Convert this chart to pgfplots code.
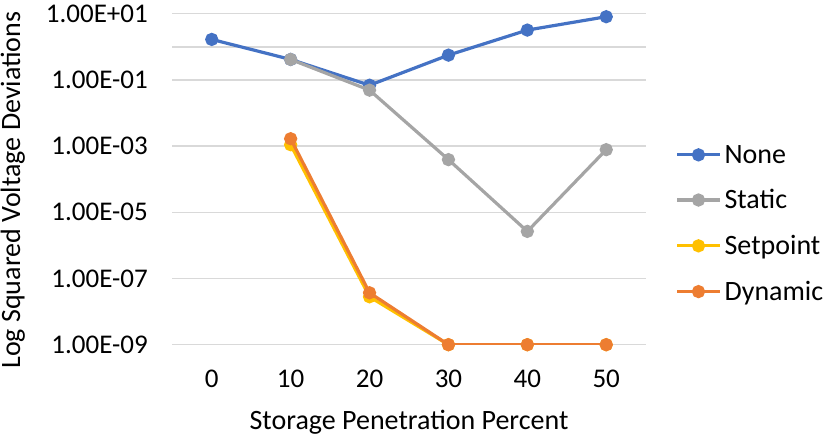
\documentclass[border=0pt]{standalone}
\usepackage{fontspec}
\setmainfont{Carlito}
\usepackage{pgfplots}
\pgfplotsset{compat=1.18}
\definecolor{cNone}{HTML}{4472C4}
\definecolor{cStatic}{HTML}{A5A5A5}
\definecolor{cSet}{HTML}{FFC000}
\definecolor{cDyn}{HTML}{ED7D31}
\definecolor{cGrid}{HTML}{D9D9D9}
\begin{document}
\begin{tikzpicture}
\begin{axis}[
  at={(172.3pt,93.3pt)}, anchor=south west,
  scale only axis, width=473.4pt, height=331pt,
  ymode=log, ymin=1e-9, ymax=10,
  xmin=-5, xmax=55,
  xtick={0,10,20,30,40,50},
  xticklabels={0,10,20,30,40,50},
  ytick={1e-9,1e-7,1e-5,1e-3,1e-1,10},
  yticklabels={1.00E-09,1.00E-07,1.00E-05,1.00E-03,1.00E-01,1.00E+01},
  extra y ticks={1}, extra y tick labels={},
  extra y tick style={grid=major},
  ymajorgrids, grid style={cGrid, line width=1.5pt},
  minor tick num=0, yminorticks=false,
  axis line style={draw=none},
  major tick length=0pt, tick style={draw=none},
  ticklabel style={font=\fontsize{27}{31}\selectfont},
  yticklabel style={anchor=east, xshift=-21pt},
  xticklabel style={anchor=north, yshift=-22pt},
  xlabel={Storage Penetration Percent},
  ylabel={Log Squared Voltage Deviations},
  label style={font=\fontsize{28}{32}\selectfont},
  xlabel style={at={(axis description cs:0.5,0)}, anchor=north, yshift=-62pt},
  ylabel style={at={(axis description cs:-0.337,0.467)}, anchor=center},
  clip mode=individual,
  every axis plot/.append style={line width=3.2pt, mark=*, mark size=5pt},
  legend style={at={(1.056,0.366)}, anchor=west, draw=none, fill=none,
    font=\fontsize{28}{32}\selectfont, row sep=21pt,
    /tikz/every odd column/.append style={column sep=1pt}},
  legend cell align=left,
  legend image code/.code={
    \draw[#1, mark=none] (0pt,0pt) -- (43pt,0pt);
    \draw[#1, only marks, mark size=5pt] plot coordinates {(21.5pt,0pt)};
  },
]
\addplot[color=cNone, mark options={fill=cNone, draw=cNone}] coordinates {
  (0,1.67) (10,0.415) (20,0.069) (30,0.56) (40,3.2) (50,8.1)};
\addlegendentry{None}
\addplot[color=cStatic, mark options={fill=cStatic, draw=cStatic}] coordinates {
  (10,0.415) (20,0.049) (30,3.9e-4) (40,2.65e-6) (50,7.8e-4)};
\addlegendentry{Static}
\addplot[color=cSet, mark options={fill=cSet, draw=cSet}] coordinates {
  (10,1.1e-3) (20,2.8e-8) (30,1e-9) (40,1e-9) (50,1e-9)};
\addlegendentry{Setpoint}
\addplot[color=cDyn, mark options={fill=cDyn, draw=cDyn}] coordinates {
  (10,1.67e-3) (20,3.7e-8) (30,1e-9) (40,1e-9) (50,1e-9)};
\addlegendentry{Dynamic}
\end{axis}
\pgfresetboundingbox
\path (0pt,0pt) rectangle (823pt,438pt);
\end{tikzpicture}
\end{document}
